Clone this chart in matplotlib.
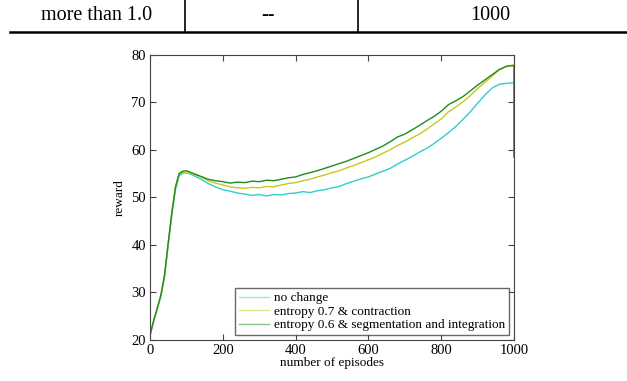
import matplotlib.pyplot as plt
from matplotlib.lines import Line2D

# episodes: every 10 during the early rise, then every 20; last point repeated for the drop at 1000
episodes = list(range(0, 100, 10)) + list(range(100, 1001, 20)) + [1000]

no_change = [21.0, 23.9, 26.5, 29.2, 33.3, 39.9, 46.3, 51.6, 54.5, 55.1,
             55.2, 54.6, 53.8, 52.9, 52.2,
             51.6, 51.3, 50.9, 50.7, 50.4, 50.6, 50.3, 50.6, 50.5, 50.8,
             50.9, 51.2, 51.0, 51.4, 51.6, 52.0, 52.3, 52.9, 53.4, 53.9,
             54.3, 54.9, 55.5, 56.1, 57.0, 57.8, 58.6, 59.5, 60.3, 61.3,
             62.4, 63.6, 64.9, 66.4, 68.0, 69.8, 71.5, 73.0, 73.8, 74.0,
             74.1, 74.1]
entropy_07 = [21.0, 24.0, 26.6, 29.4, 33.6, 40.3, 46.7, 52.1, 54.9, 55.3,
              55.2, 54.9, 54.3, 53.5, 53.0,
              52.6, 52.2, 52.0, 51.9, 52.1, 52.0, 52.3, 52.2, 52.6, 52.9,
              53.1, 53.5, 53.8, 54.3, 54.7, 55.2, 55.6, 56.2, 56.7, 57.3,
              57.9, 58.5, 59.3, 60.0, 60.9, 61.6, 62.5, 63.3, 64.3, 65.4,
              66.5, 68.0, 69.0, 70.1, 71.4, 72.9, 74.2, 75.5, 76.9, 77.5,
              77.9, 58.5]
entropy_06 = [21.0, 24.1, 26.7, 29.5, 33.7, 40.4, 46.8, 52.2, 55.0, 55.5,
              55.6, 55.0, 54.4, 53.8, 53.5,
              53.3, 53.0, 53.2, 53.1, 53.4, 53.3, 53.6, 53.5, 53.8, 54.1,
              54.3, 54.8, 55.2, 55.6, 56.1, 56.6, 57.1, 57.6, 58.2, 58.8,
              59.4, 60.1, 60.8, 61.7, 62.7, 63.3, 64.2, 65.1, 66.1, 67.0,
              68.1, 69.5, 70.3, 71.2, 72.4, 73.6, 74.7, 75.8, 76.9, 77.6,
              77.7, 58.5]

labels = ['no change', 'entropy 0.7 & contraction',
          'entropy 0.6 & segmentation and integration']
colors = ['#33cccc', '#c8c81e', '#1e8c1e']

table_row = ['more than 1.0', '--', '1000']

plt.rcParams['font.family'] = ['Liberation Serif', 'DejaVu Serif']

fig = plt.figure(figsize=(6.27, 3.81), dpi=100)

# table row above the chart (part of the page)
for txt, xc in zip(table_row, [97 / 627, 268 / 627, 490 / 627]):
    fig.text(xc, 1 - 16 / 381, txt, ha='center', va='center', fontsize=14.5)
for xv in [185 / 627, 358 / 627]:
    fig.add_artist(Line2D([xv, xv], [1, 1 - 32 / 381], color='black', lw=1.2))
fig.add_artist(Line2D([10 / 627, 1], [1 - 32 / 381, 1 - 32 / 381], color='black', lw=1.8))

ax = fig.add_axes([150 / 627, 1 - 340 / 381, 364 / 627, 285.3 / 381])
for vals, lab, c in zip([no_change, entropy_07, entropy_06], labels, colors):
    ax.plot(episodes, vals, color=c, lw=1.0, label=lab)

ax.set_xlim(0, 1000)
ax.set_ylim(20, 80)
ax.set_xticks([0, 200, 400, 600, 800, 1000])
ax.set_yticks([20, 30, 40, 50, 60, 70, 80])
ax.tick_params(direction='in', top=True, right=True, labelsize=10.5, length=4,
               color='#444444', pad=3)
for s in ax.spines.values():
    s.set_color('#444444')
ax.set_xlabel('number of episodes', fontsize=9.5, labelpad=0)
ax.set_ylabel('reward', fontsize=9.5, labelpad=4)

leg = ax.legend(loc='lower right', fontsize=9.5, frameon=True, fancybox=False,
                borderaxespad=0.35, handlelength=2.3, labelspacing=0.1,
                borderpad=0.3, handletextpad=0.4)
leg.get_frame().set_edgecolor('#444444')
leg.get_frame().set_linewidth(1.0)
for line in leg.get_lines():
    line.set_alpha(0.5)

fig.savefig('out.png', dpi=100)
